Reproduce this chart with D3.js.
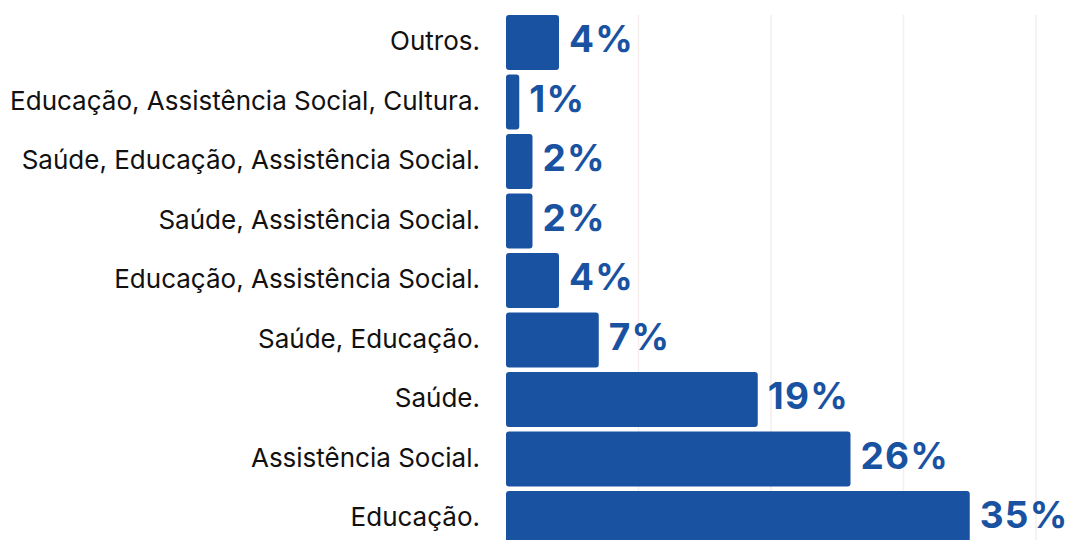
<!DOCTYPE html>
<html>
<head>
<meta charset="utf-8">
<script src="https://cdn.jsdelivr.net/npm/d3@7"></script>
<style>
  body { margin: 0; background: #fff; }
  svg { display: block; }
</style>
</head>
<body>
<script>
'use strict';
// categories from top to bottom, as in the picture
const categories = [
  "Outros.",
  "Educação, Assistência Social, Cultura.",
  "Saúde, Educação, Assistência Social.",
  "Saúde, Assistência Social.",
  "Educação, Assistência Social.",
  "Saúde, Educação.",
  "Saúde.",
  "Assistência Social.",
  "Educação."
];
const values = [4, 1, 2, 2, 4, 7, 19, 26, 35];
const gridTicks = [10, 20, 30, 40];

(function () {
  const width = 1072, height = 540;
  const blue = "#1a52a2";

  const svg = d3.select("body").append("svg")
    .attr("width", width)
    .attr("height", height);

  const x = d3.scaleLinear().domain([0, 40]).range([506, 1036]);
  // the last bar runs past the bottom edge, as in the picture
  const y = d3.scaleBand().domain(categories).range([12.8, 548.3]).paddingInner(0.075).paddingOuter(0.0375);

  // light vertical grid
  svg.append("g").selectAll("line")
    .data(gridTicks)
    .join("line")
    .attr("x1", d => x(d)).attr("x2", d => x(d))
    .attr("y1", 15).attr("y2", height)
    .attr("stroke", "#f6eded")
    .attr("stroke-width", 1.5);

  const rows = d3.range(categories.length);

  svg.append("g").selectAll("rect")
    .data(rows)
    .join("rect")
    .attr("x", x(0))
    .attr("y", i => y(categories[i]))
    .attr("width", i => x(values[i]) - x(0))
    .attr("height", y.bandwidth())
    .attr("rx", 3)
    .attr("fill", blue);

  svg.append("g").selectAll("text")
    .data(rows)
    .join("text")
    .attr("x", 480)
    .attr("y", i => y(categories[i]) + y.bandwidth() / 2)
    .attr("dy", "0.3em")
    .attr("text-anchor", "end")
    .style("font-family", "Inter, 'Noto Sans', sans-serif")
    .style("font-size", "26px")
    .attr("fill", "#111")
    .text(i => categories[i]);

  svg.append("g").selectAll("text")
    .data(rows)
    .join("text")
    .attr("x", i => x(values[i]) + 10)
    .attr("y", i => y(categories[i]) + y.bandwidth() / 2)
    .attr("dy", "0.26em")
    .style("font-family", "Inter, 'Noto Sans', sans-serif")
    .style("font-size", "37px")
    .style("font-weight", 700)
    .style("letter-spacing", "1.2px")
    .attr("fill", blue)
    .text(i => values[i] + "%");
})();
</script>
</body>
</html>
